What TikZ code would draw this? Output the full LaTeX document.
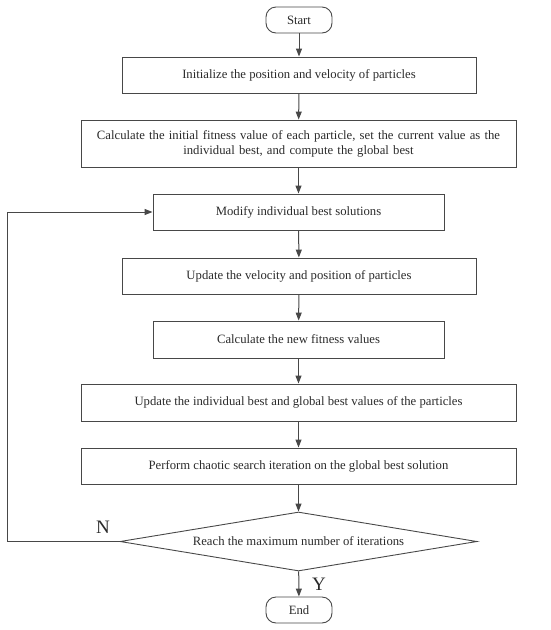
\documentclass[tikz,border=0pt]{standalone}
\usepackage{fontspec}
\setmainfont{Liberation Serif}
\usetikzlibrary{shapes.geometric,arrows.meta}
\definecolor{linegray}{HTML}{484848}
\definecolor{textgray}{HTML}{2A2A2A}
\begin{document}
\begin{tikzpicture}[x = 1pt, y = -1pt]
    \tikzstyle{every node} = [text = textgray, font = \fontsize{12.7}{15}\selectfont];
    \tikzstyle{box} = [draw = linegray, line width = .9pt, inner sep = 0pt, align = center];
    \tikzstyle{term} = [box, rounded corners = 10pt, minimum width = 66pt, minimum height = 26pt];
    \tikzstyle{arrow} = [draw = linegray, line width = 1pt, -{Triangle[length = 8pt, width = 6pt]}];
    \useasboundingbox (0,0) rectangle (550,630);
    % boxes:
    \node[term] (start) at (299,20){Start};
    \node[box, minimum width = 354pt, minimum height = 36pt] (init) at (299,75){Initialize the position and velocity of particles};
    \node[box, minimum width = 435pt, minimum height = 47pt, text width = 425pt] (calc) at (298.5,143.5){Calculate the initial fitness value of each particle, set the current value as the\\ individual best, and compute the global best};
    \node[box, minimum width = 291pt, minimum height = 36pt] (modify) at (298.5,212){Modify individual best solutions};
    \node[box, minimum width = 354pt, minimum height = 36pt] (update) at (299,276){Update the velocity and position of particles};
    \node[box, minimum width = 291pt, minimum height = 37pt] (newfit) at (298.5,339.5){Calculate the new fitness values};
    \node[box, minimum width = 435pt, minimum height = 37pt] (best) at (298.5,402.5){Update the individual best and global best values of the particles};
    \node[box, minimum width = 435pt, minimum height = 36pt] (chaos) at (298.5,466){Perform chaotic search iteration on the global best solution};
    \node[box, diamond, shape aspect = 6.05, minimum width = 357pt, minimum height = 59pt] (reach) at (298.5,541.5){Reach the maximum number of iterations};
    \node[term] (end) at (299,610){End};
    \coordinate (loop) at (7,541.5);
    % labels:
    \node[font = \fontsize{19}{20}\selectfont] (no) at (103,527){N};
    \node[font = \fontsize{19}{20}\selectfont] (yes) at (319,584){Y};
    % arrows:
    \draw[arrow] (start) -- (init);
    \draw[arrow] (init) -- (calc);
    \draw[arrow] (calc) -- (modify);
    \draw[arrow] (modify) -- (update);
    \draw[arrow] (update) -- (newfit);
    \draw[arrow] (newfit) -- (best);
    \draw[arrow] (best) -- (chaos);
    \draw[arrow] (chaos) -- (reach);
    \draw[arrow] (reach) -- (end);
    \draw[arrow] (reach.west) -- (loop) |- (modify.west);
\end{tikzpicture}
\end{document}
